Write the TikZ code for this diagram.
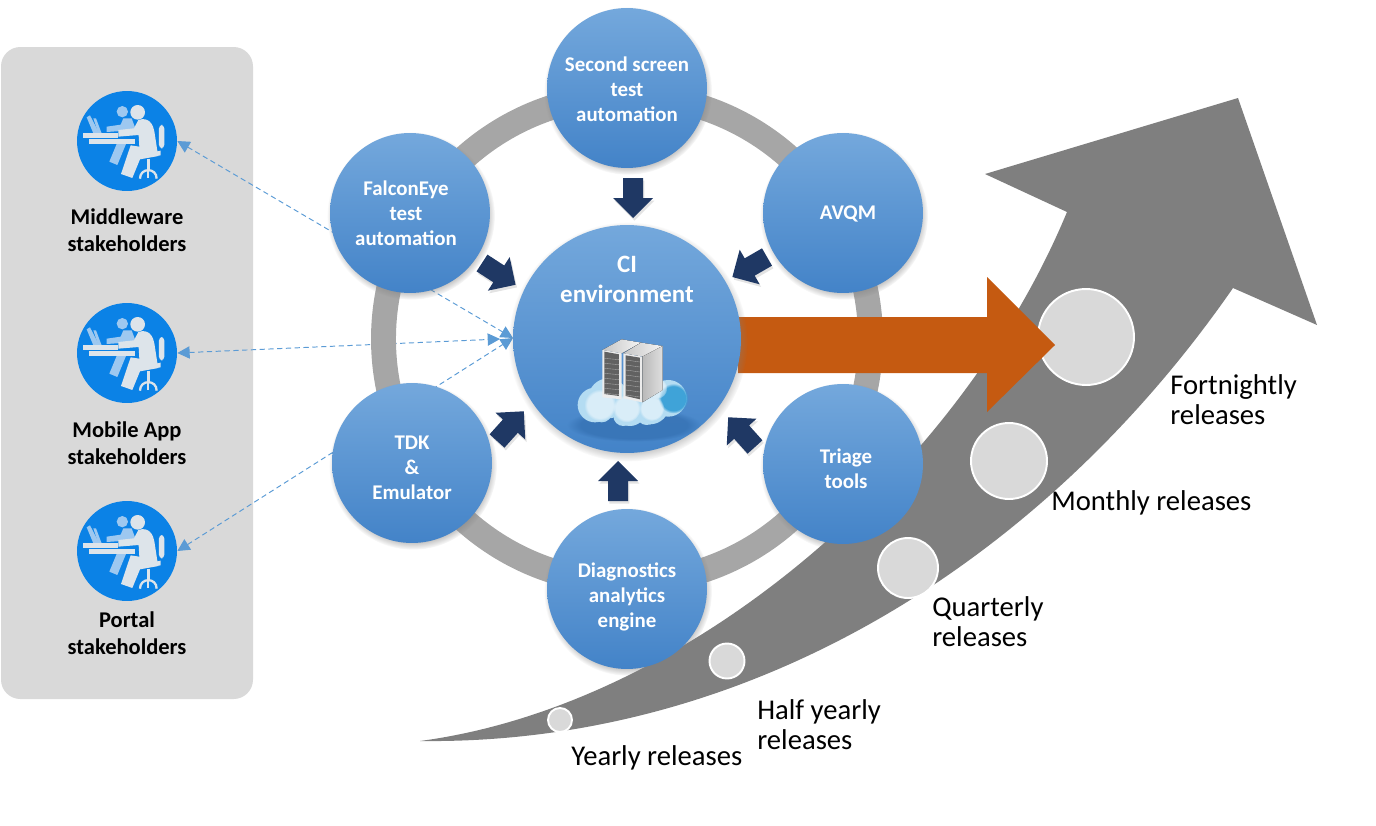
\documentclass[tikz,border=0pt]{standalone}
\usepackage{fontspec}
\setmainfont{Carlito}
\usetikzlibrary{calc}
\usetikzlibrary{shadows}
\usetikzlibrary{fadings}
\usetikzlibrary{arrows.meta}
\definecolor{panelgrey}{HTML}{D9D9D9}
\definecolor{ringgrey}{HTML}{A6A6A6}
\definecolor{bigarrowgrey}{HTML}{7F7F7F}
\definecolor{iconblue}{HTML}{0B82E6}
\definecolor{backfigure}{HTML}{9DC8F0}
\definecolor{frontfigure}{HTML}{DDE4EA}
\definecolor{linkblue}{HTML}{5B9BD5}
\definecolor{flownavy}{HTML}{1F3864}
\definecolor{pushorange}{HTML}{C55A11}
\definecolor{bubbletop}{HTML}{74A8DC}
\definecolor{bubblemid}{HTML}{5699DA}
\definecolor{bubblelow}{HTML}{4383C8}
\definecolor{cloudbase}{HTML}{B4DCF2}
\definecolor{cloudside}{HTML}{3FA3D8}
\definecolor{cloudfloor}{HTML}{3672B4}
\tikzset{
    bubble/.style={circle, inner sep=0pt, top color=bubbletop, middle color=bubblemid, bottom color=bubblelow,
        circular drop shadow={opacity=0.75, shadow scale=1.05, shadow xshift=0.5pt, shadow yshift=-1.5pt}},
    bubbletext/.style={align=center, text=white, font=\fontsize{11.9}{14.2}\selectfont\bfseries},
    disk/.style={circle, inner sep=0pt, fill=panelgrey, draw=white, line width=1.1pt},
    icondisk/.style={circle, inner sep=0pt, minimum size=2cm, fill=iconblue},
    stakelabel/.style={align=center, text=black, font=\fontsize{12.8}{15.3}\selectfont\bfseries},
    releaselabel/.style={anchor=west, inner sep=0pt, align=left, text=black, font=\fontsize{16.3}{17}\selectfont},
    linkline/.style={color=linkblue, line width=0.55pt, densely dashed,
        {Triangle[length=7pt,width=7pt]}-{Triangle[length=7pt,width=7pt]}},
    flowarrow/.pic={
        \fill[flownavy, drop shadow={opacity=0.22, shadow xshift=0.8pt, shadow yshift=-1.5pt}]
            (0,-10) -- (20,-10) -- (20,-20) -- (40,0) -- (20,20) -- (20,10) -- (0,10) -- cycle;
    },
    desksketch/.pic={
        \begin{scope}[shift={(-67,-61)},scale=0.3333]
            \fill[color=backfigure] (187,95) circle [radius=17];
            \fill[color=backfigure] (190,115) -- (215,115) -- (228,150) -- (140,156) -- (140,140) -- (182,134) -- cycle;
            \fill[color=backfigure] (170,192) -- (198,192) -- (172,255) -- (148,245) -- cycle;
            \fill[color=backfigure] (80,112) -- (90,106) -- (118,160) -- (100,160) -- cycle;
            \fill[color=backfigure] (100,115) -- (108,115) -- (125,160) -- (115,160) -- cycle;
            \fill[color=frontfigure] (70,160) rectangle (175,173);
            \fill[color=frontfigure] (88,178) rectangle (225,193);
            \fill[color=frontfigure] (233,97) circle [radius=22];
            \fill[color=frontfigure] (235,120) .. controls (265,110) and (280,130) .. (284,160) -- (292,212)
                -- (295,228) -- (240,238) -- (217,294) -- (183,282) -- (212,196) -- (238,200) -- (236,165)
                -- (175,170) -- (175,150) -- (222,145) -- cycle;
            \fill[color=frontfigure, rounded corners=2pt] (297,135) rectangle (313,205);
            \fill[color=frontfigure] (240,224) -- (302,212) -- (302,226) -- (240,236) -- cycle;
            \fill[color=frontfigure] (261,236) rectangle (270,270);
            \draw[color=frontfigure, line width=1.3pt] (240,296) .. controls (240,262) and (290,262) .. (290,296);
            \draw[color=frontfigure, line width=1.3pt] (265,270) -- (265,295);
        \end{scope}
    },
}
\begin{document}
\begin{tikzpicture}[x=0.02cm,y=-0.02cm]
    \useasboundingbox (0,0) rectangle (1376,825);
    \fill[color=panelgrey, rounded corners=11pt] (1,47) rectangle (253,699);
    \node[icondisk] (mwicon) at (127,141) {};
    \node[icondisk] (mobileicon) at (127,353) {};
    \node[icondisk] (portalicon) at (127,551) {};
    \foreach \who in {mwicon,mobileicon,portalicon}
        \pic at (\who) {desksketch};
    \node[stakelabel] (mwlabel) at (127,230) {Middleware\\stakeholders};
    \node[stakelabel] (mobilelabel) at (127,443) {Mobile App\\stakeholders};
    \node[stakelabel] (portallabel) at (127,633) {Portal\\stakeholders};
    \fill[color=bigarrowgrey] (420,741) .. controls (690,705) and (960,470) .. (1067,212) -- (985,174) -- (1238,98)
        -- (1317,325) -- (1233,288) .. controls (1050,552) and (760,745) .. (420,741) -- cycle;
    \node[disk, minimum size=0.48cm] (yearly) at (560,720) {};
    \node[disk, minimum size=0.70cm] (halfyearly) at (727,661) {};
    \node[disk, minimum size=1.20cm] (quarterly) at (908,568) {};
    \node[disk, minimum size=1.52cm] (monthly) at (1009,461) {};
    \node[disk, minimum size=1.92cm] (fortnightly) at (1086,337) {};
    \node[releaselabel] (yearlytext) at (571,758) {Yearly releases};
    \node[releaselabel] (halftext) at (757,725) {Half yearly\\releases};
    \node[releaselabel] (quartertext) at (932,622) {Quarterly\\releases};
    \node[releaselabel] (monthtext) at (1051,503) {Monthly releases};
    \node[releaselabel] (fortnighttext) at (1170,400) {Fortnightly\\releases};
    \coordinate (hub) at (513,338);
    \coordinate (hubnear) at (500,339);
    \draw[linkline] (mwicon.east) -- (hub);
    \draw[linkline] (mobileicon.east) -- (hubnear);
    \draw[linkline] (portalicon.east) -- (hub);
    \draw[color=ringgrey, line width=14.2pt] (627,339) circle [radius=243.5];
    \foreach \nm/\cx/\cy/\tx/\ty/\txt in {second/627/88/627/89/{Second screen\\test\\automation},
            falcon/410/213/406/213/{FalconEye\\test\\automation},
            avqm/843/213/848/214/{AVQM},
            tdk/412/463/412/468/{TDK\\\&\\Emulator},
            triage/843/464/846/469/{Triage\\tools},
            diag/627/589/627/597/{Diagnostics\\analytics\\engine}}
    {
        \node[bubble, minimum size=3.2cm] (\nm) at (\cx,\cy) {};
        \node[bubbletext] (\nm text) at (\tx,\ty) {\txt};
    }
    \fill[color=pushorange] (738,317) -- (987,317) -- (987,277) -- (1055,345) -- (987,412) -- (987,373) -- (738,373) -- cycle;
    \node[bubble, minimum size=4.56cm] (ci) at (627,339) {};
    \node[bubbletext, font=\fontsize{14.2}{17}\selectfont\bfseries] (citext) at (627,279) {CI\\environment};
    \pic[rotate=-90] at (633,178) {flowarrow};
    \pic[rotate=-33] at (482,263) {flowarrow};
    \pic[rotate=210] at (767,257) {flowarrow};
    \pic[rotate=48] at (497,441) {flowarrow};
    \pic[rotate=132] at (755,447) {flowarrow};
    \pic[rotate=90] at (618,501) {flowarrow};
    \begin{scope}[shift={(540,310)},scale=0.3333]
        \fill[color=cloudfloor, opacity=0.8, path fading=circle with fuzzy edge 20 percent] (282,345) ellipse [x radius=200, y radius=50];
        \foreach \bx/\by/\br in {165/285/52,205/265/60,270/300/48,330/285/58,385/265/55,250/318/30,320/315/30,185/305/32}
            \fill[color=cloudbase] (\bx,\by) circle [radius=\br];
        \fill[color=cloudside, path fading=circle with fuzzy edge 20 percent] (400,265) circle [radius=45];
        \foreach \bx/\by/\br in {180/285/48,260/295/42,335/295/38,350/235/32}
            \fill[color=white, opacity=0.5, path fading=circle with fuzzy edge 20 percent] (\bx,\by) circle [radius=\br];
        \fill[left color=gray!45, right color=white!92!gray] (187,120) -- (245,88) -- (303,98) -- (245,130) -- cycle;
        \fill[color=white!85!gray] (187,120) -- (245,130) -- (245,268) -- (187,262) -- cycle;
        \fill[color=black!62] (193,125) -- (237,133) -- (237,258) -- (193,252) -- cycle;
        \fill[left color=gray!45, right color=white!92!gray] (250,130) -- (303,98) -- (368,108) -- (310,140) -- cycle;
        \fill[color=white!85!gray] (250,130) -- (307,140) -- (307,277) -- (250,265) -- cycle;
        \fill[color=black!62] (257,136) -- (300,143) -- (300,268) -- (257,258) -- cycle;
        \foreach \gy in {145,160,...,250}
        {
            \draw[color=gray!65, line width=0.2pt] (193,\gy) -- (237,\gy+4);
            \draw[color=gray!65, line width=0.2pt] (257,\gy+5) -- (300,\gy+11);
        }
        \fill[left color=gray!55, right color=white!75!gray] (307,140) -- (368,108) -- (368,240) -- (307,277) -- cycle;
    \end{scope}
\end{tikzpicture}
\end{document}
